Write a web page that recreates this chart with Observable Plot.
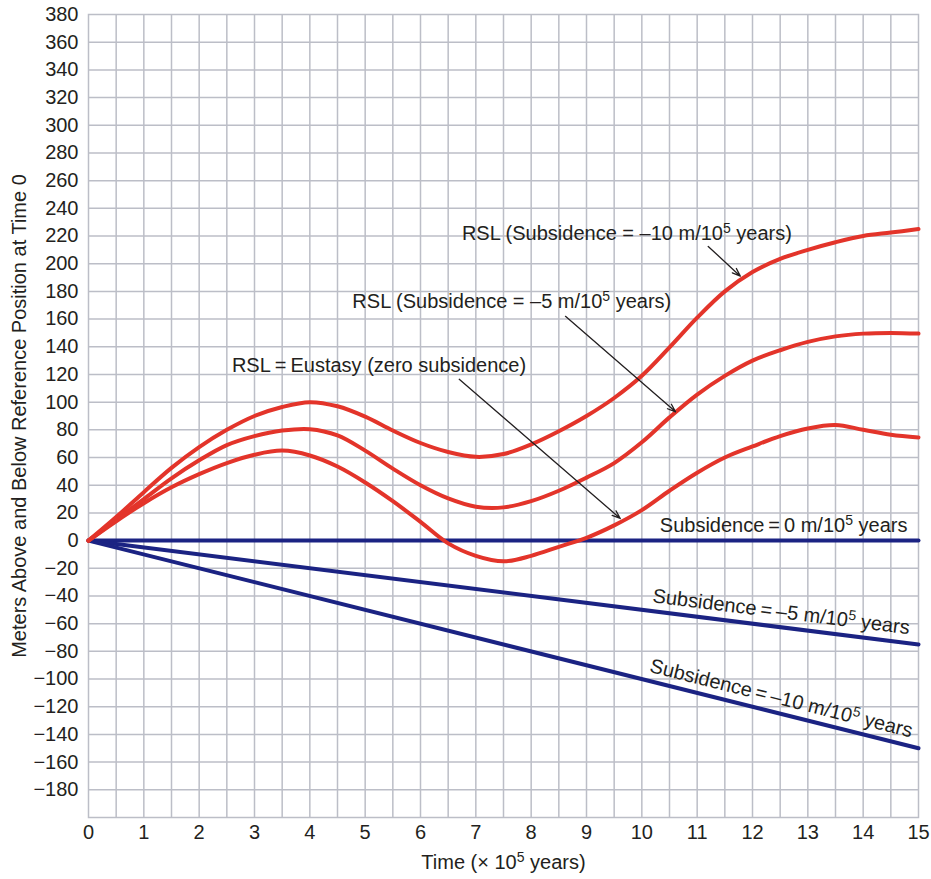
<!DOCTYPE html>
<html>
<head>
<meta charset="utf-8">
<script src="https://cdn.jsdelivr.net/npm/d3@7"></script>
<script src="https://cdn.jsdelivr.net/npm/@observablehq/plot@0.6"></script>
<style>
  html, body { margin: 0; padding: 0; background: #fff; }
  #chart { width: 931px; height: 879px; }
</style>
</head>
<body>
<div id="chart"></div>
<script>
// Time (× 10^5 years)
const time = [0, 0.5, 1, 1.5, 2, 2.5, 3, 3.5, 4, 4.5, 5, 5.5, 6, 6.5, 7, 7.5, 8, 8.5, 9, 9.5, 10, 10.5, 11, 11.5, 12, 12.5, 13, 13.5, 14, 14.5, 15];

// RSL = Eustasy (zero subsidence)
const rslZero = [0, 14, 27, 38.5, 48, 56, 62, 65, 61.5, 53.5, 42, 28.5, 13.5, -2, -11, -15, -11, -4.5, 2, 11, 22, 36, 49, 60, 68, 75.5, 81, 83.5, 80, 76.5, 74.5];
// RSL (Subsidence = -5 m/10^5 years)
const rslMinus5 = [0, 15, 30, 45, 58, 69, 75.5, 79.5, 80.5, 76, 65, 52, 40, 30.5, 24.5, 24, 28.5, 36, 45.5, 56, 71, 89, 105.5, 119, 130, 137.5, 143.5, 147.5, 149.5, 150, 149.5];
// RSL (Subsidence = -10 m/10^5 years)
const rslMinus10 = [0, 17, 35, 52.5, 67.5, 80, 90, 96.5, 100, 97, 89.5, 79.5, 70.5, 64, 60.5, 62.5, 69.5, 79, 90, 103, 119, 139.5, 161, 180, 194, 203.5, 210, 215.5, 220, 222.5, 225];

// Subsidence lines
const subsTime = [0, 15];
const subsZero = [0, 0];
const subsMinus5 = [0, -75];
const subsMinus10 = [0, -150];

// Ticks and grid
const xTicks = [0, 1, 2, 3, 4, 5, 6, 7, 8, 9, 10, 11, 12, 13, 14, 15];
const xGrid = [0.5, 1, 1.5, 2, 2.5, 3, 3.5, 4, 4.5, 5, 5.5, 6, 6.5, 7, 7.5, 8, 8.5, 9, 9.5, 10, 10.5, 11, 11.5, 12, 12.5, 13, 13.5, 14, 14.5];
const yTicks = [-180, -160, -140, -120, -100, -80, -60, -40, -20, 0, 20, 40, 60, 80, 100, 120, 140, 160, 180, 200, 220, 240, 260, 280, 300, 320, 340, 360, 380];
const yGrid = [-180, -160, -140, -120, -100, -80, -60, -40, -20, 0, 20, 40, 60, 80, 100, 120, 140, 160, 180, 200, 220, 240, 260, 280, 300, 320, 340, 360];

// Annotation labels (data units)
const labelText = [
  "RSL (Subsidence = –10 m/10⁵ years)",
  "RSL (Subsidence = –5 m/10⁵ years)",
  "RSL\u2009=\u2009Eustasy (zero subsidence)",
  "Subsidence\u2009=\u20090 m/10⁵ years",
  "Subsidence\u2009=\u2009–5 m/10⁵ years",
  "Subsidence\u2009=\u2009–10 m/10⁵ years"
];
const labelX = [9.73, 7.65, 5.25, 14.8, 12.52, 12.52];
const labelY = [221.5, 172.5, 126.5, 10.5, -51.5, -114];
const labelAnchor = ["middle", "middle", "middle", "end", "middle", "middle"];
const labelAngle = [0, 0, 0, 0, 7.1, 14.1];

// Arrows (data units)
const arrowX1 = [11.2, 8.62, 6.7];
const arrowY1 = [212.5, 162, 116.5];
const arrowX2 = [11.78, 10.61, 9.61];
const arrowY2 = [191, 93, 16];

const red = "#e3342a";
const blue = "#1b2383";
const gridColor = "#bcbec7";
const ink = "#231f20";

const toSeries = (xs, ys) => xs.map((x, i) => ({x, y: ys[i]}));
const labels = labelText.map((text, i) => ({text, x: labelX[i], y: labelY[i], anchor: labelAnchor[i], angle: labelAngle[i]}));
const arrows = arrowX1.map((x1, i) => ({x1, y1: arrowY1[i], x2: arrowX2[i], y2: arrowY2[i]}));

const chart = Plot.plot({
  width: 931,
  height: 879,
  marginLeft: 88,
  marginRight: 13,
  marginTop: 14,
  marginBottom: 62,
  style: {fontFamily: "'Liberation Sans', Arial, sans-serif", fontSize: "20px", color: ink, background: "#fff"},
  x: {domain: [0, 15]},
  y: {domain: [-200, 380]},
  marks: [
    Plot.gridX(xGrid, {stroke: gridColor, strokeOpacity: 1, strokeWidth: 1.5}),
    Plot.gridY(yGrid, {stroke: gridColor, strokeOpacity: 1, strokeWidth: 1.5}),
    Plot.frame({stroke: gridColor, strokeWidth: 1.5}),
    Plot.axisX({ticks: xTicks, tickSize: 0, tickPadding: 7, fontSize: 20, label: "Time (× 10⁵ years)", labelAnchor: "center", labelArrow: "none", labelOffset: 51}),
    Plot.axisY({ticks: yTicks, tickSize: 0, tickPadding: 10, fontSize: 20, label: "Meters Above and Below Reference Position at Time 0", labelAnchor: "center", labelArrow: "none", labelOffset: 77}),
    Plot.line(toSeries(subsTime, subsZero), {x: "x", y: "y", stroke: blue, strokeWidth: 4}),
    Plot.line(toSeries(subsTime, subsMinus5), {x: "x", y: "y", stroke: blue, strokeWidth: 4}),
    Plot.line(toSeries(subsTime, subsMinus10), {x: "x", y: "y", stroke: blue, strokeWidth: 4}),
    Plot.line(toSeries(time, rslZero), {x: "x", y: "y", stroke: red, strokeWidth: 4, curve: "catmull-rom"}),
    Plot.line(toSeries(time, rslMinus5), {x: "x", y: "y", stroke: red, strokeWidth: 4, curve: "catmull-rom"}),
    Plot.line(toSeries(time, rslMinus10), {x: "x", y: "y", stroke: red, strokeWidth: 4, curve: "catmull-rom"}),
    Plot.arrow(arrows, {x1: "x1", y1: "y1", x2: "x2", y2: "y2", stroke: ink, strokeWidth: 1.3, headLength: 10, headAngle: 40}),
    Plot.text(labels, {x: "x", y: "y", text: "text", textAnchor: "end", fill: ink, fontSize: 20, filter: d => d.anchor === "end"}),
    Plot.text(labels, {x: "x", y: "y", text: "text", rotate: "angle", textAnchor: "middle", fill: ink, fontSize: 20, filter: d => d.anchor === "middle"})
  ]
});

// Render the superscript 5 as a raised, smaller tspan
const svgNS = "http://www.w3.org/2000/svg";
chart.querySelectorAll("text, tspan").forEach(el => {
  for (const node of Array.from(el.childNodes)) {
    if (node.nodeType === 3 && node.nodeValue.includes("⁵")) {
      const parts = node.nodeValue.split("⁵");
      const frag = document.createDocumentFragment();
      parts.forEach((p, i) => {
        if (i === 0) { frag.append(document.createTextNode(p)); return; }
        const sup = document.createElementNS(svgNS, "tspan");
        sup.setAttribute("dy", "-7");
        sup.setAttribute("font-size", "14");
        sup.textContent = "5";
        const rest = document.createElementNS(svgNS, "tspan");
        rest.setAttribute("dy", "7");
        rest.textContent = p;
        frag.append(sup, rest);
      });
      el.replaceChild(frag, node);
    }
  }
});

document.getElementById("chart").append(chart);
</script>
</body>
</html>
